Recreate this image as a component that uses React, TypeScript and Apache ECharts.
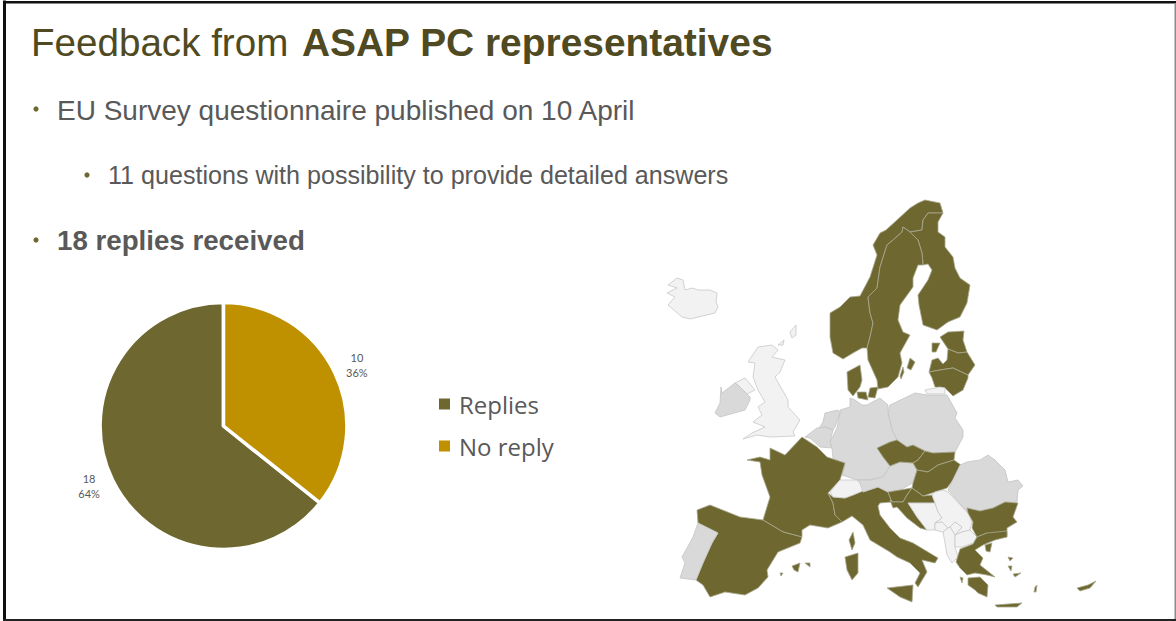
import { useEffect, useRef } from "react";
import * as echarts from "echarts";

const OLIVE = "#6e6830";
const GOLD = "#bf9000";
const GREY = "#d9d9d9";
const PALE = "#f2f2f2";

// Survey outcome
const answerLabels = ["Replies", "No reply"];
const answerCounts = [18, 10];

// Slide wording
const headingPlain = "Feedback from";
const headingBold = "ASAP PC representatives";
const bulletPublished = "EU Survey questionnaire published on 10 April";
const bulletQuestions = "11 questions with possibility to provide detailed answers";
const bulletReplies = "18 replies received";

// Country groups for the map shading
const repliedCountries = [
  "Norway", "Finland", "Sweden", "Denmark", "Estonia", "Latvia", "Lithuania", "France", "Spain", "Italy",
  "Czechia", "Slovakia", "Hungary", "Slovenia", "Croatia", "Bulgaria", "Greece", "Cyprus",
];
const silentMemberCountries = [
  "Portugal", "Ireland", "Netherlands", "Belgium", "Germany", "Poland", "Austria", "Romania",
];
const otherCountries = [
  "Iceland", "United Kingdom", "Northern Ireland", "Switzerland", "Bosnia", "Serbia", "Montenegro",
  "Kosovo", "Albania", "North Macedonia", "Kaliningrad",
];

// Simplified national outlines: each country is a list of rings, each ring a flat x,y list
const outlines: Record<string, number[][]> = {
  Norway: [[877,255,873,245,880,233,886,230,897,220,910,208,918,203,925,200,940,203,943,213,928,213,923,220,922,230,910,232,903,227,902,232,893,240,887,245,880,267,877,288,868,297,870,313,873,323,870,337,867,348,862,348,853,353,843,359,833,353,830,337,830,313,840,307,850,297,860,296,870,277]],
  Finland: [[928,213,943,213,938,222,938,232,945,237,945,247,953,257,955,268,960,278,970,285,967,303,960,317,948,322,937,330,923,325,919,305,918,295,928,280,932,270,928,264,923,265,922,253,918,240,910,232,922,230,923,220]],
  Sweden: [[903,227,910,232,918,240,922,253,923,265,918,265,913,278,913,287,900,305,898,320,903,332,910,335,900,353,902,363,898,377,888,387,878,389,877,380,868,360,867,348,870,337,873,323,870,313,868,297,877,288,880,267,887,245,893,240,902,232],[910,358,915,362,911,370,907,368],[903,367,904,372,901,379,900,376]],
  Denmark: [[847,372,860,365,862,380,860,387,853,396,848,390],[857,392,866,392,868,400,858,398],[870,388,878,387,875,398,868,397]],
  Estonia: [[940,337,948,332,964,331,963,340,967,352,958,353,948,349],[932,343,940,343,936,352,932,352]],
  Latvia: [[929,372,932,360,938,358,943,364,947,360,948,349,958,353,967,352,975,365,968,375,953,368,940,370]],
  Lithuania: [[929,372,940,370,953,368,968,375,968,378,963,390,953,396,945,388,935,387,932,378]],
  Kaliningrad: [[925,390,940,387,945,388,945,394,927,394]],
  Poland: [[890,405,915,393,927,395,947,395,957,413,955,418,963,430,963,437,955,452,933,453,925,451,913,445,907,447,897,440,892,430,888,413]],
  Germany: [[850,398,855,400,862,405,867,405,880,398,888,405,888,413,892,430,897,440,888,443,878,448,883,457,890,466,883,477,870,480,857,480,842,475,845,465,833,458,832,448,830,442,837,428,840,413,840,410,850,407]],
  Netherlands: [[825,413,838,410,840,413,835,427,833,430,825,427,818,430,823,422]],
  Belgium: [[817,428,825,427,833,430,830,442,832,448,820,447,810,438,805,437]],
  France: [[802,437,817,447,827,457,845,463,840,480,828,493,833,503,835,515,842,522,828,528,810,525,802,530,802,537,783,532,763,520,770,497,762,475,760,462,747,460,760,457,770,460,770,448,785,455],[853,532,855,543,852,550,849,540]],
  Italy: [[833,503,828,493,833,497,845,498,853,495,865,490,863,492,878,487,888,492,892,502,880,503,878,506,880,515,890,528,900,538,913,543,938,558,935,563,922,560,927,572,918,587,915,583,920,573,910,563,897,557,890,552,870,540,863,525,852,516,842,522,835,515],[845,557,858,553,858,573,852,580,847,570],[887,588,913,585,912,602,900,597]],
  Switzerland: [[830,492,840,480,857,480,860,483,865,490,853,495,845,498,833,497]],
  Spain: [[697,510,710,505,740,517,763,520,783,532,802,537,800,543,778,552,767,570,768,577,758,588,745,595,725,592,710,597,703,585,696,580,703,563,712,543,718,533,698,523],[792,566,800,563,798,572,794,570],[805,563,810,563,810,567],[780,573,783,573,781,576]],
  Portugal: [[698,523,718,533,712,543,703,563,696,580,680,578,685,563,682,557,693,537]],
  Austria: [[857,480,870,480,883,477,890,466,900,462,913,463,917,470,913,483,900,490,888,492,878,487,863,492,860,483]],
  Czechia: [[877,448,890,442,897,440,907,447,913,445,925,451,918,460,913,463,900,462,890,466,883,457]],
  Slovakia: [[925,451,933,453,955,452,954,460,938,465,928,472,917,470,913,463,918,460]],
  Hungary: [[917,470,928,472,938,465,954,460,961,465,953,480,947,488,932,493,923,496,912,488,913,483]],
  Slovenia: [[888,492,900,490,912,488,907,495,903,502,892,502]],
  Croatia: [[912,488,923,496,932,495,935,503,908,503,917,517,927,530,920,528,907,518,897,507,893,508,890,500,892,502,903,502,907,495]],
  Bosnia: [[908,503,935,503,938,512,942,518,935,523,935,530,927,530,917,517]],
  Serbia: [[935,492,943,490,948,492,968,513,972,522,970,530,962,532,955,535,962,527,955,522,950,527,948,528,942,522,935,523,942,518,938,512,935,503,932,495]],
  Kosovo: [[950,527,955,522,962,527,955,535]],
  Montenegro: [[935,523,942,522,948,528,943,532,935,530]],
  Albania: [[943,532,948,528,950,527,955,535,955,547,958,557,952,563,947,555,945,543]],
  "North Macedonia": [[955,535,962,532,970,530,977,537,973,543,962,547,955,547]],
  Romania: [[948,490,960,465,967,462,980,460,988,455,995,460,1005,470,1008,482,1018,480,1023,486,1018,490,1017,502,1005,502,993,508,980,511,967,508,968,513]],
  Bulgaria: [[967,508,980,511,993,508,1005,502,1018,503,1013,517,1017,522,1007,528,1007,537,993,537,987,533,977,537,972,528,973,522,968,513]],
  Greece: [[956,562,960,549,973,544,977,537,987,533,1007,531,1007,537,995,540,983,545,975,550,983,558,980,565,995,577,987,575,975,573,967,575,960,568],[968,578,980,577,988,585,987,597,978,593,975,590,968,585],[995,605,1022,603,1017,607,997,607],[1008,557,1013,558,1010,561],[1008,566,1012,566,1011,571],[1013,574,1021,573,1015,577],[1035,587,1037,585,1036,592,1034,592],[985,545,992,543,990,552,986,551],[960,577,963,578,962,583]],
  Cyprus: [[1077,588,1088,585,1096,581,1090,588,1080,591]],
  Iceland: [[668,285,677,278,683,280,685,290,692,288,698,290,710,290,717,293,716,302,718,307,715,313,690,319,682,317,668,305,675,297,667,293,677,288]],
  "United Kingdom": [[758,347,772,345,778,350,772,357,785,360,780,372,775,377,788,400,788,407,800,420,793,432,795,436,770,437,757,435,743,439,752,433,765,427,753,422,762,415,758,407,765,402,758,390,753,377,755,363,748,362],[790,332,796,325,796,335,792,338],[778,345,784,340,783,345]],
  "Northern Ireland": [[735,383,745,378,755,390,747,394,740,387]],
  Ireland: [[722,393,735,383,740,387,747,394,750,397,750,400,745,410,720,417,715,413,720,403,721,387]],
};

// Flat pixel lists become a GeoJSON collection; the y axis is flipped for latitude
const SLIDE_H = 621;
const europeGeo = {
  type: "FeatureCollection",
  features: Object.entries(outlines).map(([name, rings]) => ({
    type: "Feature",
    properties: { name },
    geometry: {
      type: "MultiPolygon",
      coordinates: rings.map((flat) => {
        const ring: number[][] = [];
        for (let i = 0; i < flat.length; i += 2) ring.push([flat[i], SLIDE_H - flat[i + 1]]);
        ring.push(ring[0]);
        return [ring];
      }),
    },
  })),
};

const shade = (names: string[], fill: string, border: string) =>
  names.map((name) => ({ name, value: 1, itemStyle: { areaColor: fill, borderColor: border } }));

export default function App() {
  const ref = useRef<HTMLDivElement>(null);
  useEffect(() => {
    document.body.style.margin = "0";
    if (!ref.current) return;
    echarts.registerMap("europe", europeGeo as any);
    const chart = echarts.init(ref.current, null, { renderer: "svg" });
    const total = answerCounts[0] + answerCounts[1];
    const textStyle = (x: number, y: number, text: string, size: number, fill: string, weight = 400) => ({
      type: "text",
      x,
      y,
      silent: true,
      style: { text, fill, fontFamily: "Liberation Sans", fontSize: size, fontWeight: weight, textVerticalAlign: "middle" },
    });
    const bullet = (cx: number, cy: number) => ({
      type: "circle",
      silent: true,
      shape: { cx, cy, r: 2.6 },
      style: { fill: OLIVE },
    });
    const edge = (x: number, y: number, width: number, height: number, fill: string) => ({
      type: "rect",
      silent: true,
      shape: { x, y, width, height },
      style: { fill },
    });
    chart.setOption({
      animation: false,
      backgroundColor: "#ffffff",
      color: [OLIVE, GOLD],
      legend: {
        orient: "vertical",
        left: 437,
        top: 390,
        padding: 0,
        itemWidth: 13,
        itemHeight: 13,
        itemGap: 14,
        icon: "rect",
        selectedMode: false,
        data: answerLabels,
        textStyle: { color: "#595959", fontFamily: "Open Sans", fontSize: 24, lineHeight: 28, padding: [0, 0, 0, 3] },
      },
      series: [
        {
          type: "pie",
          silent: true,
          center: [223.5, 426],
          radius: [0, 123.4],
          startAngle: 90 - (360 * answerCounts[1]) / total,
          clockwise: true,
          percentPrecision: 0,
          itemStyle: { borderColor: "#ffffff", borderWidth: 3.5 },
          label: {
            position: "outside",
            formatter: (p: any) => `{t|${p.value}}\n{t|${p.percent}%}`,
            rich: { t: { width: 26, align: "center", color: "#595959", fontFamily: "Lato", fontSize: 11, lineHeight: 15.5 } },
          },
          labelLine: { show: false, length: 8, length2: 0 },
          labelLayout: (p: any) => (p.dataIndex === 0 ? { dx: 2, dy: 3 } : { dx: -3, dy: -4 }),
          data: answerLabels.map((name, i) => ({ name, value: answerCounts[i] })),
        },
        {
          type: "map",
          map: "europe",
          silent: true,
          showLegendSymbol: false,
          boundingCoords: [[0, SLIDE_H], [1176, 0]],
          left: 0,
          top: 0,
          width: 1176,
          height: SLIDE_H,
          aspectScale: 1,
          roam: false,
          label: { show: false },
          itemStyle: { borderWidth: 0.8 },
          emphasis: { disabled: true },
          data: [
            ...shade(repliedCountries, OLIVE, "#a9a88f"),
            ...shade(silentMemberCountries, GREY, "#c4c4c4"),
            ...shade(otherCountries, PALE, "#c8c8c8"),
          ],
        },
      ],
      graphic: [
        edge(3, 0.5, 3, 620, "#111111"),
        edge(3, 1, 1173, 2.5, "#111111"),
        edge(3, 619, 1173, 2, "#222222"),
        edge(1174.5, 3, 1.5, 616, "#8c8c8c"),
        textStyle(31, 42, headingPlain, 38.6, "#4f4a22"),
        textStyle(302, 42, headingBold, 38.9, "#4f4a22", 700),
        bullet(36, 109),
        textStyle(57, 110, bulletPublished, 28, "#595959"),
        bullet(87, 175),
        textStyle(108, 175, bulletQuestions, 25.1, "#595959"),
        bullet(36, 240),
        textStyle(57, 240, bulletReplies, 27.7, "#595959", 700),
      ],
    });
    return () => chart.dispose();
  }, []);
  return <div ref={ref} style={{ width: 1176, height: 621 }} />;
}
